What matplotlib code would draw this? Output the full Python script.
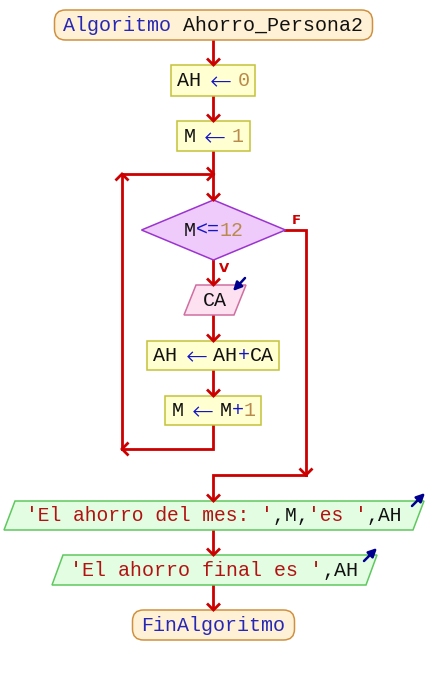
import matplotlib
matplotlib.use("Agg")
import matplotlib.pyplot as plt
from matplotlib.patches import FancyBboxPatch, Polygon, Rectangle
from matplotlib.lines import Line2D

# ---------------- data: node texts as (segment, role) ----------------
title_segments = [("Algoritmo", "kw"), (" ", "id"), ("Ahorro_Persona2", "id")]
assign_ah_segments = [("AH", "id"), (" ", "id"), ("←", "op"), (" ", "id"), ("0", "num")]
assign_m_segments = [("M", "id"), (" ", "id"), ("←", "op"), (" ", "id"), ("1", "num")]
condition_segments = [("M", "id"), ("<=", "op"), ("12", "num")]
read_segments = [("CA", "id")]
accumulate_segments = [("AH", "id"), (" ", "id"), ("←", "op"), (" ", "id"),
                       ("AH", "id"), ("+", "op"), ("CA", "id")]
increment_segments = [("M", "id"), (" ", "id"), ("←", "op"), (" ", "id"),
                      ("M", "id"), ("+", "op"), ("1", "num")]
write_month_segments = [("'El ahorro del mes: '", "str"), (",", "id"), ("M", "id"),
                        (",", "id"), ("'es '", "str"), (",", "id"), ("AH", "id")]
write_final_segments = [("'El ahorro final es '", "str"), (",", "id"), ("AH", "id")]
end_segments = [("FinAlgoritmo", "kw")]
branch_labels = ["V", "F"]

# ---------------- styles ----------------
ROLE_COLORS = {"kw": "#2727B5", "id": "#111111", "op": "#1515C8",
               "num": "#B98A4A", "str": "#B31212"}
FLOW = "#CC0000"
MONO = ["Liberation Mono", "DejaVu Sans Mono"]

fig = plt.figure(figsize=(4.28, 6.75), dpi=100)
ax = fig.add_axes([0, 0, 1, 1])
ax.set_xlim(0, 428)
ax.set_ylim(675, 0)
ax.axis("off")

CX = 213.5  # main flow column


def draw_text(segs, cx, cy, cw=12.0):
    n = sum(len(s) for s, _ in segs)
    em = cw / 0.6
    x = cx - n * cw / 2
    base = cy + 0.285 * em
    for s, role in segs:
        if s == "←":
            ax.text(x + cw * 0.6, cy, s, ha="center", va="center_baseline",
                    fontsize=em * 0.95, family="DejaVu Sans", fontweight=200,
                    color=ROLE_COLORS[role], zorder=5)
        else:
            ax.text(x, base, s, ha="left", va="baseline", fontsize=em * 0.72,
                    family=MONO, color=ROLE_COLORS[role], zorder=5)
        x += len(s) * cw


def terminal(segs, cy, w, h=30):
    p = FancyBboxPatch((CX - w / 2, cy - h / 2), w, h,
                       boxstyle="round,pad=0,rounding_size=11",
                       fc="#FFF1D6", ec="#CF9140", lw=1.1, zorder=3)
    ax.add_patch(p)
    draw_text(segs, CX, cy)


def process(segs, cy, w, h=30):
    ax.add_patch(Rectangle((CX - w / 2, cy - h / 2), w, h, fc="#FFFFD2",
                           ec="#C4C23A", lw=1.1, zorder=3))
    draw_text(segs, CX, cy)


def para(segs, cx, cy, w, s, h, fc, ec, cw=12.0):
    pts = [(cx - w / 2 + s / 2, cy - h / 2), (cx + w / 2 + s / 2, cy - h / 2),
           (cx + w / 2 - s / 2, cy + h / 2), (cx - w / 2 - s / 2, cy + h / 2)]
    ax.add_patch(Polygon(pts, closed=True, fc=fc, ec=ec, lw=1.1, zorder=3))
    draw_text(segs, cx, cy, cw)
    return pts


def head(x, y, d, size=6.5, color=FLOW):
    if d == "down":
        xs, ys = [x - size, x, x + size], [y - size, y, y - size]
    elif d == "up":
        xs, ys = [x - size, x, x + size], [y + size, y, y + size]
    elif d == "left":
        xs, ys = [x + size, x, x + size], [y - size, y, y + size]
    else:
        xs, ys = [x - size, x, x - size], [y - size, y, y + size]
    ax.add_line(Line2D(xs, ys, color=color, lw=2.0, zorder=4,
                       solid_joinstyle="miter", solid_capstyle="butt"))


def path(xs, ys, d=None):
    ax.add_line(Line2D(xs, ys, color=FLOW, lw=2.0, zorder=2,
                       solid_joinstyle="miter"))
    if d:
        head(xs[-1], ys[-1], d)


def indicator(x0, y0, x1, y1):
    ax.annotate("", xy=(x1, y1), xytext=(x0, y0),
                arrowprops=dict(arrowstyle="-|>,head_length=0.5,head_width=0.25",
                                color="#00008F", lw=1.8, shrinkA=0, shrinkB=0),
                zorder=6)


# ---------------- nodes ----------------
terminal(title_segments, 25, 318)
process(assign_ah_segments, 80.5, 84, 31)
process(assign_m_segments, 136, 73, 30)

# decision
dx, dy, dhw, dhh = CX, 230, 72, 30
ax.add_patch(Polygon([(dx, dy - dhh), (dx + dhw, dy), (dx, dy + dhh), (dx - dhw, dy)],
                     closed=True, fc="#EECBFB", ec="#9B34CF", lw=1.1, zorder=3))
draw_text(condition_segments, dx, dy)

ca = para(read_segments, 215, 300, 50, 12, 30, "#FDE1F0", "#CF6FA0")
indicator(ca[1][0] - 1, ca[1][1] - 7, ca[1][0] - 13, ca[1][1] + 6)

process(accumulate_segments, 355.5, 132, 29)
process(increment_segments, 410.5, 96, 29)

o1 = para(write_month_segments, 214, 515.5, 409, 11, 29, "#E2FDE2", "#5FC85F", cw=11.75)
indicator(o1[1][0] - 12, o1[1][1] + 5, o1[1][0] + 1, o1[1][1] - 8)
o2 = para(write_final_segments, 214.5, 570, 314, 11, 30, "#E2FDE2", "#5FC85F")
indicator(o2[1][0] - 13, o2[1][1] + 6, o2[1][0], o2[1][1] - 7)

terminal(end_segments, 625, 162)

# ---------------- flow lines ----------------
path([CX, CX], [40, 65], "down")
path([CX, CX], [96, 121], "down")
path([CX, CX], [151, 200], "down")
path([CX, CX], [260, 285], "down")
path([CX, CX], [315, 341], "down")
path([CX, CX], [370, 396], "down")
# loop back
path([CX, CX, 122], [425, 449, 449], "left")
path([122, 122], [449, 174], "up")
path([122, CX], [174, 174], "right")
# false branch
path([dx + dhw, 306, 306], [230, 230, 475], "down")
path([306, CX, CX], [475, 475, 501], "down")
path([CX, CX], [530, 555], "down")
path([CX, CX], [585, 610], "down")

# branch labels
ax.text(224, 268, branch_labels[0], color=FLOW, fontsize=9.5, fontweight="bold",
        ha="center", va="center", family="DejaVu Sans")
ax.text(296, 220, branch_labels[1], color=FLOW, fontsize=9.5, fontweight="bold",
        ha="center", va="center", family="DejaVu Sans")

fig.savefig("out.png", dpi=100)
